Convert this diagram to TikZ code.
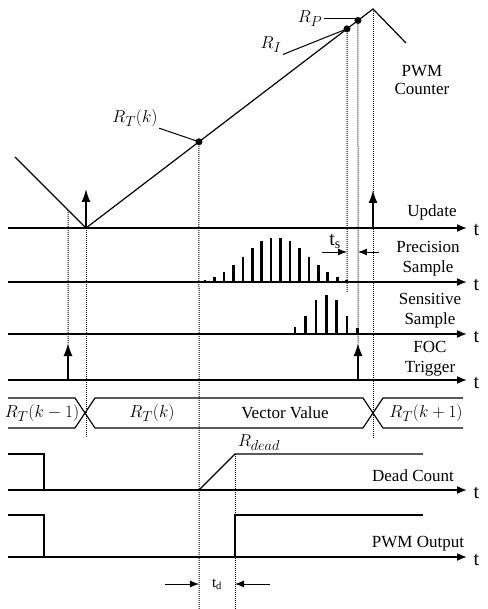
\documentclass[tikz,border=0pt]{standalone}
\usepackage{fontspec}
\setmainfont{Liberation Serif}
\usetikzlibrary{arrows.meta, positioning, calc}
\tikzset{
  every picture/.style={line width=1.2pt},
  axis/.style={-{Latex[length=10pt, width=8pt]}, line width=1.6pt},
  pulse/.style={-{Latex[length=13pt, width=9pt]}, line width=1.6pt},
  gap/.style={-{Latex[length=9pt, width=7pt]}, line width=1pt},
  guide/.style={densely dotted, line width=1pt},
  bar/.style={line width=2.6pt},
  dot/.style={circle, fill=black, inner sep=0pt, minimum size=7pt},
  note/.style={font=\fontsize{17}{20}\selectfont, align=center, inner sep=1pt},
  sym/.style={font=\fontsize{19}{21}\selectfont, inner sep=1pt},
  tick/.style={font=\fontsize{20}{22}\selectfont, anchor=base west, inner sep=0pt},
}

\begin{document}
\begin{tikzpicture}[x=1pt, y=-1pt]
  \useasboundingbox (0,0) rectangle (487,609);
  % time axes, y in px from the top
  \foreach \ay/\nm in {228/upd, 282/prec, 334/sens, 380/foc, 490/dead, 557/pwm} {\draw[axis] (8,\ay) -- (467,\ay); \node[tick] (t\nm) at (473,\ay+8) {t};}
  \node[note] (updlbl) at (432,212) {Update};
  \node[note] (preclbl) at (428,259) {Precision\\Sample};
  \node[note] (senslbl) at (430,311) {Sensitive\\Sample};
  \node[note] (foclbl) at (430,359) {FOC\\Trigger};
  % PWM counter
  \coordinate (c0) at (15,157); \coordinate (vmin) at (86,228); \coordinate (peak) at (373,9); \coordinate (c1) at (406,43);
  \draw (c0) -- (vmin) -- (peak) -- (c1);
  \node[dot] (rtk) at ($(vmin)!0.3937!(peak)$) {};
  \node[dot] (ri) at ($(vmin)!0.9094!(peak)$) {};
  \node[dot] (rp) at ($(vmin)!0.9477!(peak)$) {};
  \node[sym] (rtklbl) at (135,118) {$R_T(k)$};
  \draw[line width=1pt] (rtklbl.south east) -- (rtk.center);
  \node[sym] (rilbl) at (271,45) {$R_I$};
  \draw[line width=1pt] (rilbl.south east) -- (ri.center);
  \node[sym] (rplbl) at (310,19) {$R_P$};
  \draw[line width=1pt] (rplbl.east) -- (rplbl.east -| rp);
  \node[note] (cntlbl) at (422,80) {PWM\\[-2pt]Counter};
  % update and trigger pulses
  \coordinate (upd1) at (86,189); \coordinate (upd2b) at (373,228); \coordinate (upd2) at (373,190);
  \coordinate (foc1b) at (68,380); \coordinate (foc1) at (68,343); \coordinate (foc2b) at (358,380); \coordinate (foc2) at (358,343);
  \draw[pulse] (vmin) -- (upd1); \draw[pulse] (upd2b) -- (upd2);
  \draw[pulse] (foc1b) -- (foc1); \draw[pulse] (foc2b) -- (foc2);
  % dotted guides
  \draw[guide] ($(c0)!0.7465!(vmin)$) -- (foc1);
  \draw[guide] (vmin) -- (86,438);
  \draw[guide] (rtk.center) -- (199,609);
  \draw[guide] (ri.center) -- (347,292);
  \draw[guide] (rp.center) -- (foc2);
  \draw[guide] (peak) -- (373,438);
  % sample pulses
  \foreach \x/\h in {205/1.7, 214.4/5, 223.9/10, 233.3/16.7, 242.8/25, 252.2/34, 261.6/41, 271.1/44, 280.5/44, 290/41, 299.4/34, 308.8/25, 318.3/16.7, 327.7/10, 337.2/5, 346.6/1.7} \draw[bar] (\x,282) -- ++(0,-\h);
  \foreach \x/\h in {295/7, 305.4/18, 315.8/34, 326.2/39, 336.6/34, 347/18, 357.4/6} \draw[bar] (\x,334) -- ++(0,-\h);
  \coordinate (tsl) at (322,252); \coordinate (tsr) at (379,252);
  \draw[gap] (tsl) -- (tsl -| ri); \draw[gap] (tsr) -- (tsr -| rp);
  \node[font=\fontsize{20}{22}\selectfont, inner sep=0pt] (tslbl) at (335,241) {t\textsubscript{s}};
  % vector value bus
  \draw (8,398) -- (75,398) -- (95,428) -- (363,428) -- (383,398) -- (463,398);
  \draw (8,428) -- (75,428) -- (95,398) -- (363,398) -- (383,428) -- (463,428);
  \node[sym] (bus0) at (42,413) {$R_T(k-1)$};
  \node[sym] (bus1) at (152,413) {$R_T(k)$};
  \node[note] (bus2) at (285,413) {Vector Value};
  \node[sym] (bus3) at (426,413) {$R_T(k+1)$};
  % dead count and PWM output
  \coordinate (d0) at (199,490); \coordinate (dtop) at (235,454);
  \draw (8,454) -- (44,454) -- (44,490);
  \draw (d0) -- (dtop) -- (423,454);
  \node[sym] (rdead) at (259,443) {$R_{dead}$};
  \node[note] (deadlbl) at (413,476) {Dead Count};
  \draw (8,515) -- (44,515) -- (44,557);
  \draw (235,557) -- (235,515) -- (423,515);
  \node[note] (pwmlbl) at (418,544) {PWM Output};
  \draw[guide] (dtop) -- (235,609);
  \coordinate (tdl) at (165,584); \coordinate (tdr) at (270,584);
  \draw[gap] (tdl) -- (tdl -| rtk); \draw[gap] (tdr) -- (tdr -| dtop);
  \node[font=\fontsize{15}{17}\selectfont, inner sep=0pt] (tdlbl) at (217,584) {t\textsubscript{d}};
\end{tikzpicture}
\end{document}
